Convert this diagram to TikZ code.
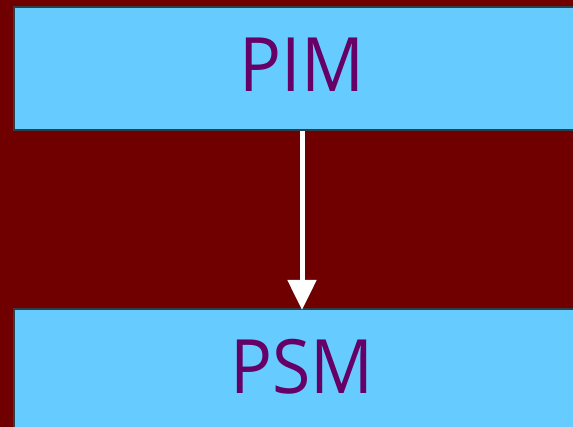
\documentclass[tikz,border=0pt]{standalone}
\usepackage{fontspec}
\setmainfont{Open Sans}
\usetikzlibrary{arrows.meta}
\definecolor{bgred}{HTML}{700000}
\definecolor{boxblue}{HTML}{66CCFF}
\definecolor{boxedge}{HTML}{2E3F48}
\definecolor{labelpurple}{HTML}{660066}
\tikzset{
  modelbox/.style={draw=boxedge, line width=2pt, fill=boxblue,
    minimum width=576pt, minimum height=123pt, inner sep=0pt},
  modellabel/.style={anchor=base, text=labelpurple, inner sep=0pt,
    xscale=0.93, font=\fontsize{75}{80}\selectfont},
  flow/.style={draw=white, line width=5pt, shorten >=-2pt,
    -{Triangle[width=28pt,length=30pt]}}
}
\begin{document}
\begin{tikzpicture}[x=1pt,y=-1pt]
  \useasboundingbox (0,0) rectangle (573,427);
  \fill[bgred] (0,0) rectangle (573,427);
  % the two model levels
  \node[modelbox] (pim) at (302,68.5) {};
  \node[modelbox] (psm) at (302,370.5) {};
  \node[modellabel] (pimtext) at (302,92) {PIM};
  \node[modellabel] (psmtext) at (302,394) {PSM};
  % transformation
  \draw[flow] (pim.south) -- (psm.north);
\end{tikzpicture}
\end{document}
